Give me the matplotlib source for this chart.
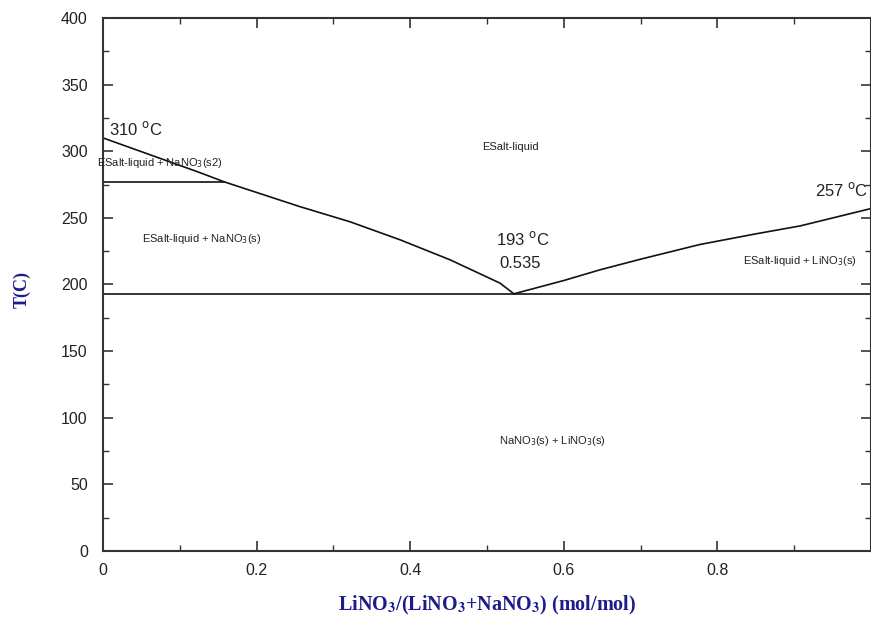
import numpy as np
import matplotlib.pyplot as plt
from matplotlib.ticker import MultipleLocator

# liquidus, NaNO3 side (x = LiNO3 mole fraction, T in C)
x_left = [0.0, 0.126, 0.158, 0.256, 0.322, 0.387, 0.452, 0.517, 0.535]
t_left = [310, 284, 277, 258.5, 247, 233.5, 218.5, 201, 193]

# liquidus, LiNO3 side
x_right = [0.535, 0.6, 0.647, 0.7, 0.777, 0.85, 0.908, 1.0]
t_right = [193, 203, 211, 219, 230, 238, 244, 257]

# NaNO3 solid-solid transition and eutectic
x_trans = [0.0, 0.158]
t_trans = [277, 277]
x_eut = [0.0, 1.0]
t_eut = [193, 193]

plt.rcParams['font.family'] = ['Liberation Sans', 'DejaVu Sans']

fig = plt.figure(figsize=(8.71, 6.17), dpi=100)
ax = fig.add_axes([0.1183, 0.107, 0.8817, 0.8638])

lc = '#111111'
ax.plot(x_left, t_left, color=lc, lw=1.2)
ax.plot(x_right, t_right, color=lc, lw=1.2)
ax.plot(x_trans, t_trans, color=lc, lw=1.2)
ax.plot(x_eut, t_eut, color=lc, lw=1.2)

ax.set_xlim(0, 1.0)
ax.set_ylim(0, 400)
ax.xaxis.set_minor_locator(MultipleLocator(0.1))
ax.yaxis.set_major_locator(MultipleLocator(50))
ax.yaxis.set_minor_locator(MultipleLocator(25))
ax.set_xticks([0, 0.2, 0.4, 0.6, 0.8])
ax.set_xticklabels(['0', '0.2', '0.4', '0.6', '0.8'])
ax.tick_params(which='both', direction='in', top=True, right=True,
               colors='#333333', labelcolor='#222222', labelsize=11.5)
ax.tick_params(which='major', length=7, width=1.2)
ax.tick_params(which='minor', length=4, width=1.0)
ax.tick_params(axis='y', pad=11)
ax.tick_params(axis='x', pad=9)
for s in ax.spines.values():
    s.set_color('#333333')
    s.set_linewidth(1.5)

tc = '#222222'
ax.text(0.008, 317, '310 $^{\\rm o}$C', fontsize=12, color=tc, ha='left', va='center')
ax.text(0.996, 271, '257 $^{\\rm o}$C', fontsize=12, color=tc, ha='right', va='center')
ax.text(0.546, 234, '193 $^{\\rm o}$C', fontsize=12, color=tc, ha='center', va='center')
ax.text(0.543, 215.5, '0.535', fontsize=12, color=tc, ha='center', va='center')

sc = 8
ax.text(0.53, 303, 'ESalt-liquid', fontsize=sc, color=tc, ha='center', va='center')
ax.text(0.074, 291, 'ESalt-liquid + NaNO$_3$(s2)', fontsize=sc, color=tc,
        ha='center', va='center', clip_on=False)
ax.text(0.128, 234, 'ESalt-liquid + NaNO$_3$(s)', fontsize=sc, color=tc, ha='center', va='center')
ax.text(0.908, 217.7, 'ESalt-liquid + LiNO$_3$(s)', fontsize=sc, color=tc, ha='center', va='center')
ax.text(0.585, 82.7, 'NaNO$_3$(s) + LiNO$_3$(s)', fontsize=sc, color=tc, ha='center', va='center')

navy = '#1c1c8a'
fig.text(0.559, 0.019, 'LiNO$_\\mathbf{3}$/(LiNO$_\\mathbf{3}$+NaNO$_\\mathbf{3}$) (mol/mol)',
         family='Liberation Serif', fontweight='bold', fontsize=14.5, color=navy,
         ha='center', va='center', math_fontfamily='stix')
fig.text(0.025, 0.53, 'T(C)', family='Liberation Serif', fontweight='bold',
         fontsize=13, color=navy, rotation=90, ha='center', va='center')

fig.savefig('out.png', dpi=100)
